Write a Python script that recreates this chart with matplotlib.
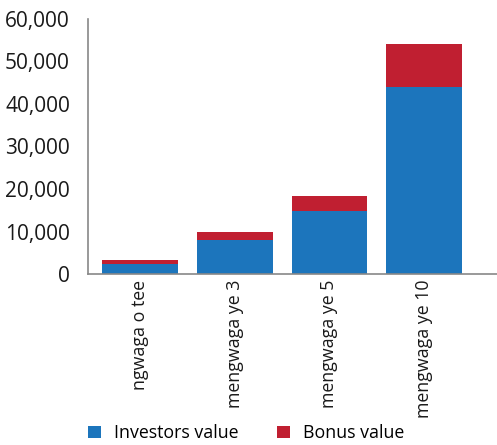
import matplotlib.pyplot as plt
from matplotlib.ticker import FuncFormatter

categories = ["ngwaga o tee", "mengwaga ye 3", "mengwaga ye 5", "mengwaga ye 10"]
investors = [2350, 8000, 14800, 43850]
bonus = [950, 1900, 3550, 10250]

blue = "#1c75bc"
red = "#c01f31"

plt.rcParams['font.family'] = ['Open Sans', 'DejaVu Sans']

fig = plt.figure(figsize=(4.97, 4.45), dpi=100)
ax = fig.add_axes([0.177, 0.384, 0.823, 0.574])

x = range(len(categories))
ax.bar(x, investors, width=0.8, color=blue, label="Investors value")
ax.bar(x, bonus, width=0.8, bottom=investors, color=red, label="Bonus value")

ax.set_ylim(0, 60000)
ax.set_xlim(-0.55, 3.77)
ax.set_yticks(range(0, 60001, 10000))
ax.yaxis.set_major_formatter(FuncFormatter(lambda v, p: f"{int(v):,}"))
ax.set_xticks(list(x))
ax.set_xticklabels(categories, rotation=90)

ax.tick_params(axis='y', length=0, pad=13, labelsize=15, labelcolor="#1a1a1a")
ax.tick_params(axis='x', length=0, pad=4, labelsize=12.8, labelcolor="#1a1a1a")

for s in ["top", "right"]:
    ax.spines[s].set_visible(False)
for s in ["left", "bottom"]:
    ax.spines[s].set_color("#888888")
    ax.spines[s].set_linewidth(1.2)

fig.legend(loc="lower left", bbox_to_anchor=(0.145, -0.03), ncol=2, frameon=False,
           fontsize=12.8, handlelength=0.7, handleheight=0.7, columnspacing=2.2,
           handletextpad=0.75)

fig.savefig("out.png", dpi=100)
